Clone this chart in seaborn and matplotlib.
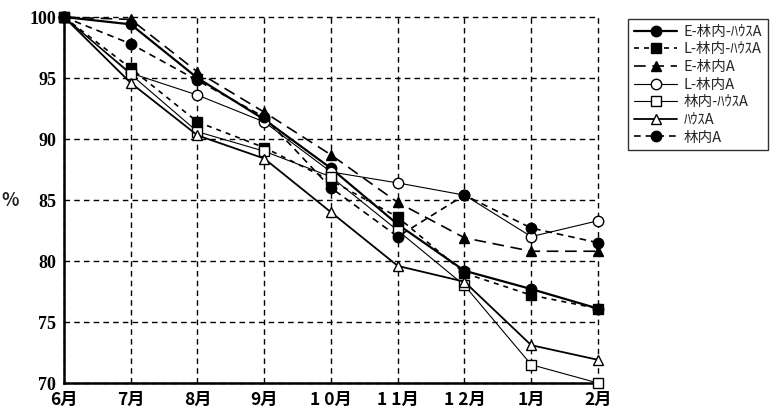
import matplotlib
matplotlib.use("Agg")
import matplotlib.pyplot as plt
import seaborn as sns
import numpy as np
import pandas as pd

months = ["6月", "7月", "8月", "9月", "1 0月", "1 1月", "1 2月", "1月", "2月"]
series_names = ["E-林内-ﾊｳｽA", "L-林内-ﾊｳｽA", "E-林内A", "L-林内A", "林内-ﾊｳｽA", "ﾊｳｽA", "林内A"]

e_rinnai_house = [100, 99.4, 95.0, 91.6, 87.6, 83.0, 79.2, 77.7, 76.1]
l_rinnai_house = [100, 95.8, 91.4, 89.3, 86.6, 83.6, 79.0, 77.2, 76.1]
e_rinnai = [100, 99.8, 95.5, 92.2, 88.7, 84.8, 81.9, 80.8, 80.8]
l_rinnai = [100, 95.4, 93.6, 91.4, 87.3, 86.4, 85.4, 82.0, 83.3]
rinnai_house = [100, 95.3, 90.6, 89.0, 86.9, 82.5, 78.0, 71.5, 70.0]
house = [100, 94.6, 90.3, 88.4, 84.0, 79.6, 78.3, 73.1, 71.9]
rinnai = [100, 97.8, 94.8, 91.8, 86.0, 82.0, 85.4, 82.7, 81.5]

values = [e_rinnai_house, l_rinnai_house, e_rinnai, l_rinnai, rinnai_house, house, rinnai]

styles = {
    "E-林内-ﾊｳｽA": dict(marker="o", mfc="black", ls="-", lw=1.6),
    "L-林内-ﾊｳｽA": dict(marker="s", mfc="black", ls=(0, (3, 3)), lw=1.2),
    "E-林内A": dict(marker="^", mfc="black", ls=(0, (7, 4)), lw=1.2),
    "L-林内A": dict(marker="o", mfc="white", ls="-", lw=0.8),
    "林内-ﾊｳｽA": dict(marker="s", mfc="white", ls="-", lw=0.8),
    "ﾊｳｽA": dict(marker="^", mfc="white", ls="-", lw=1.3),
    "林内A": dict(marker="o", mfc="black", ls=(0, (4, 3)), lw=1.2),
}

x = np.arange(len(months))
df = pd.DataFrame({name: vals for name, vals in zip(series_names, values)})
df["x"] = x

sns.set_style("white")
plt.rcParams["font.family"] = ["Noto Sans CJK JP", "DejaVu Sans"]

fig = plt.figure(figsize=(7.82, 4.19), dpi=100)
ax = fig.add_axes([0.0818, 0.0859, 0.6829, 0.8735])

for name in series_names:
    st = styles[name]
    sns.lineplot(data=df, x="x", y=name, ax=ax, color="black", marker=st["marker"],
                 markersize=7.5, markerfacecolor=st["mfc"], markeredgecolor="black",
                 markeredgewidth=1.0, linestyle=st["ls"], linewidth=st["lw"],
                 label=name, clip_on=False, zorder=3)

ax.set_xlim(0, len(months) - 1)
ax.set_ylim(70, 100)
ax.set_xticks(x)
ax.set_xticklabels(months, fontsize=12.5, fontweight="bold")
ax.set_yticks(np.arange(70, 101, 5))
ax.set_yticklabels([str(v) for v in range(70, 101, 5)], fontsize=13,
                   family="Liberation Serif", fontweight="bold")
ax.set_xlabel("")
ax.set_ylabel("%", fontsize=13, fontweight="bold", rotation=0, ha="center", va="center")
ax.yaxis.set_label_coords(-0.1, 0.5)

ax.grid(True, color="black", linestyle=(0, (4, 3)), linewidth=1.0)
for s in ["top", "right"]:
    ax.spines[s].set_visible(False)
for s in ["left", "bottom"]:
    ax.spines[s].set_color("black")
    ax.spines[s].set_linewidth(1.8)
ax.tick_params(axis="both", direction="inout", length=7, width=1.5, colors="black", pad=2)
for gl in ax.get_xgridlines() + ax.get_ygridlines():
    gl.set_clip_on(False)

leg = ax.legend(loc="upper left", bbox_to_anchor=(1.056, 0.995), frameon=True,
                fancybox=False, edgecolor="black", fontsize=10.5, handlelength=3.0,
                borderpad=0.4, labelspacing=0.25, handletextpad=0.4, borderaxespad=0)
leg.get_frame().set_linewidth(1.0)

fig.savefig("out.png", dpi=100)
